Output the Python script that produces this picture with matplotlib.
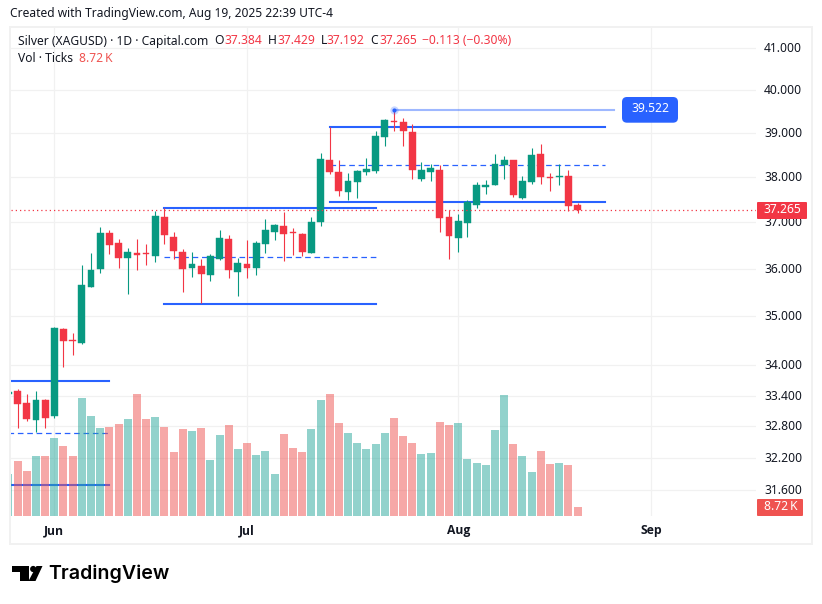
import numpy as np
import matplotlib
matplotlib.use("Agg")
import matplotlib.pyplot as plt
from matplotlib.patches import FancyBboxPatch, Rectangle, Polygon, Circle
from matplotlib.transforms import Affine2D

plt.rcParams['font.family'] = 'Noto Sans'

opens = [33.43, 33.49, 33.25, 32.92, 33.31, 33.00, 34.74, 34.52, 34.46, 35.61,
         35.99, 36.76, 36.54, 36.22, 36.33, 36.33, 36.26, 37.11, 36.67, 36.35,
         36.01, 36.05, 35.86, 36.20, 36.63, 35.92, 36.09, 36.01, 36.52, 36.78,
         36.91, 36.78, 36.74, 36.33, 37.00, 38.39, 38.11, 37.66, 37.88, 38.11,
         38.13, 38.90, 39.27, 39.25, 39.02, 37.95, 38.11, 38.15, 37.11, 36.65,
         36.98, 37.37, 37.77, 37.82, 38.26, 38.37, 37.53, 37.88, 38.52, 38.00,
         38.00, 38.02, 37.384]
highs = [33.50, 33.53, 33.43, 33.49, 33.33, 34.78, 34.76, 34.66, 36.07, 36.33,
         36.89, 36.83, 36.63, 36.44, 36.63, 36.52, 37.24, 37.31, 36.78, 36.42,
         36.35, 36.20, 36.31, 36.83, 36.72, 36.22, 36.61, 36.59, 37.07, 36.96,
         37.22, 36.87, 36.76, 37.11, 38.54, 39.13, 38.39, 38.09, 38.15, 38.43,
         39.04, 39.32, 39.522, 39.34, 39.20, 38.34, 38.30, 38.26, 37.265, 37.17,
         37.49, 37.88, 37.93, 38.52, 38.47, 38.37, 38.02, 38.65, 38.74, 38.09,
         38.28, 38.15, 37.429]
lows = [33.40, 32.77, 32.90, 32.69, 32.76, 32.96, 33.97, 34.20, 34.44, 35.61,
        35.90, 36.31, 36.01, 35.46, 35.97, 36.07, 36.14, 36.52, 36.20, 35.50,
        35.82, 35.27, 35.74, 36.18, 35.80, 35.42, 35.80, 35.86, 36.33, 36.61,
        36.16, 36.29, 36.26, 36.33, 36.91, 38.06, 37.57, 37.49, 37.53, 38.04,
        38.09, 38.70, 39.04, 38.70, 37.95, 37.91, 37.91, 36.78, 36.20, 36.35,
        36.67, 37.31, 37.62, 37.82, 37.95, 37.55, 37.51, 37.84, 37.84, 37.68,
        37.82, 37.24, 37.192]
closes = [33.47, 33.23, 32.94, 33.31, 32.96, 34.76, 34.50, 34.50, 35.65, 35.97,
          36.76, 36.50, 36.22, 36.35, 36.29, 36.31, 37.13, 36.72, 36.37, 35.99,
          36.09, 35.88, 36.26, 36.65, 35.97, 36.12, 36.01, 36.54, 36.83, 36.93,
          36.74, 36.76, 36.35, 37.00, 38.41, 38.11, 37.68, 37.91, 38.13, 38.18,
          38.93, 39.29, 39.25, 39.04, 38.15, 38.15, 38.20, 37.09, 36.69, 37.02,
          37.44, 37.82, 37.82, 38.28, 38.37, 37.60, 37.91, 38.50, 38.00, 37.97,
          38.02, 37.35, 37.265]
volumes = [40.7, 53.3, 43.6, 58.1, 58.1, 75.6, 67.8, 58.1, 114.3, 96.9,
           85.3, 86.2, 89.1, 94.0, 118.2, 94.0, 95.9, 86.2, 62.0, 84.3,
           82.4, 85.3, 54.3, 78.5, 88.2, 64.9, 70.7, 59.1, 63.0, 40.7,
           79.5, 65.9, 62.0, 84.3, 112.4, 118.2, 90.1, 80.4, 70.7, 64.9,
           69.8, 80.4, 95.0, 77.5, 70.7, 60.1, 61.0, 91.1, 88.2, 90.1,
           55.2, 51.4, 49.4, 83.3, 117.2, 69.8, 58.1, 42.6, 63.0, 50.4,
           51.4, 49.4, 8.72]
first_bar = -5

price_ticks = [41, 40, 39, 38, 37, 36, 35, 34, 33.4, 32.8, 32.2, 31.6]
month_labels = ['Jun', 'Jul', 'Aug', 'Sep']
month_bars = [0, 21, 44, 65]

# drawn levels: price, first bar, last bar
solid_levels = [(39.13, 30, 60), (37.44, 30, 60), (37.31, 12, 35),
                (35.25, 12, 35), (33.69, -5, 6), (31.68, -5, 6)]
dashed_levels = [(38.26, 30, 60), (36.24, 12, 35), (32.67, -5, 6)]
peak_price = 39.522
peak_bar = 37
peak_end = 61
last_price = 37.265

W, H = 822, 604
UP, DOWN = '#089981', '#F23645'
VOL_UP, VOL_DOWN = '#26A69A', '#EF5350'
BLUE = '#2962FF'
INK = '#131722'
GRID = '#f1f1f1'
FS = 8.7

fig = plt.figure(figsize=(W / 100, H / 100), dpi=100, facecolor='white')
to_px = Affine2D().scale(1 / W, -1 / H).translate(0, 1) + fig.transFigure

pane = [11 / W, 1 - 516 / H, 745 / W, 488 / H]
ax = fig.add_axes(pane, zorder=1)
ax_vol = fig.add_axes(pane, zorder=2, sharex=ax)
ax_c = fig.add_axes(pane, zorder=3, sharex=ax)

bars = first_bar + np.arange(len(opens))
o, h, l, c = map(np.array, (opens, highs, lows, closes))
up = c >= o

ax.set_yscale('log')
ax_c.set_yscale('log')
for a in (ax, ax_c):
    a.set_ylim(31.11, 41.487)
ax.set_xlim(-4.717, 76.44)
ax_vol.set_ylim(0, 472.9)

ax.set_yticks(price_ticks)
ax.set_yticklabels([f"{p:.3f}" for p in price_ticks], color=INK, fontsize=FS)
ax.yaxis.set_minor_locator(matplotlib.ticker.NullLocator())
ax.yaxis.set_minor_formatter(matplotlib.ticker.NullFormatter())
ax.yaxis.tick_right()
ax.set_xticks(month_bars)
ax.set_xticklabels(month_labels, color=INK, fontsize=FS, fontweight='bold', family='Open Sans')
ax.tick_params(axis='both', length=0)
ax.tick_params(axis='y', pad=5.8)
ax.tick_params(axis='x', pad=5.8)
ax.grid(True, color=GRID, lw=0.9)
ax.set_axisbelow(True)
for lab in ax.get_yticklabels():
    lab.set_transform(lab.get_transform() + Affine2D().translate(0, 1))

for a in (ax_vol, ax_c):
    a.patch.set_alpha(0)
    a.yaxis.set_minor_locator(matplotlib.ticker.NullLocator())
    a.yaxis.set_minor_formatter(matplotlib.ticker.NullFormatter())
    a.set_yticks([])
    a.tick_params(axis='x', labelbottom=False, length=0)
for a in (ax, ax_vol, ax_c):
    for s in a.spines.values():
        s.set_visible(False)

# levels sit under the volume bars
for price, start, end in solid_levels:
    ax.plot([start, end], [price, price], color=BLUE, lw=1.5, solid_capstyle='projecting')
for price, start, end in dashed_levels:
    ax.plot([start, end], [price, price], color=BLUE, lw=0.9, dashes=(4.5, 3))
ax.plot([peak_bar, peak_end], [peak_price, peak_price], color=BLUE, alpha=0.45, lw=1.5)

ax_vol.bar(bars, volumes, width=0.87, linewidth=0,
           color=[VOL_UP if u else VOL_DOWN for u in up], alpha=0.5)

colors = [UP if u else DOWN for u in up]
ax_c.vlines(bars, l, h, colors=colors, lw=0.8)
ax_c.bar(bars, np.abs(c - o), bottom=np.minimum(o, c), width=0.74,
         color=colors, edgecolor=colors, linewidth=0.3)
ax_c.axhline(last_price, color=DOWN, lw=0.9, dashes=(1, 2.4))
ax_c.plot([peak_bar], [peak_price], 'o', ms=6, color=BLUE, alpha=0.25, mew=0)
ax_c.plot([peak_bar], [peak_price], 'o', ms=3, color=BLUE, mew=0)


def px_text(x, y, s, color=INK, size=FS, **kw):
    kw.setdefault('va', 'center')
    return fig.text(x, y, s, transform=to_px, color=color, fontsize=size, zorder=12, **kw)


def px_box(x0, y0, x1, y1, color, pad=0.0):
    style = f"round,pad=0,rounding_size={pad}" if pad else "square,pad=0"
    fig.add_artist(FancyBboxPatch((x0, y0), x1 - x0, y1 - y0, boxstyle=style, fc=color, ec='none',
                                  transform=to_px, zorder=11))


fig.add_artist(Rectangle((10, 27), 802, 517, fc='none', ec='#f1f1f1', lw=1.4, transform=to_px, zorder=0.5))

px_box(622, 97, 678, 122.7, BLUE, pad=5)
px_text(650, 109, f"{peak_price:.3f}", color='white', ha='center')
px_box(757, 202, 807, 219, DOWN, pad=1)
px_text(763.7, 209.5, f"{last_price:.3f}", color='white')
px_box(757, 499, 803, 516, VOL_DOWN, pad=1)
px_text(763.7, 507, "8.72\u202fK", color='white')

px_text(10, 14, "Created with TradingView.com, Aug 19, 2025 22:39 UTC-4", size=8.65)
px_text(18, 41, "Silver (XAGUSD) · 1D · Capital.com")
for x, letter, x_val, val in [(214.7, 'O', 224, opens[-1]), (267.7, 'H', 277, highs[-1]),
                              (320.7, 'L', 326.7, lows[-1]), (370.7, 'C', 379, closes[-1])]:
    px_text(x, 41, letter)
    px_text(x_val, 41, f"{val:.3f}", color=DOWN)
px_text(422, 41, "\u22120.113 (\u22120.30%)", color=DOWN)
px_text(18, 58, "Vol · Ticks")
px_text(79, 58, "8.72\u202fK", color=VOL_DOWN)

# logo mark
fig.add_artist(Polygon([(12, 566), (29, 566), (29, 581), (20, 581), (20, 572), (12, 572)],
                       fc='black', ec='none', transform=to_px, zorder=12))
fig.add_artist(Circle((33.2, 569), 3.1, fc='black', ec='none', transform=to_px, zorder=12))
fig.add_artist(Polygon([(36.5, 566), (42.5, 566), (35.5, 581), (28.5, 581)],
                       fc='black', ec='none', transform=to_px, zorder=12))
px_text(48.5, 573.5, "TradingView", color='black', size=14.1, family='Inter', fontweight='semibold')

fig.savefig('out.png', dpi=100)
